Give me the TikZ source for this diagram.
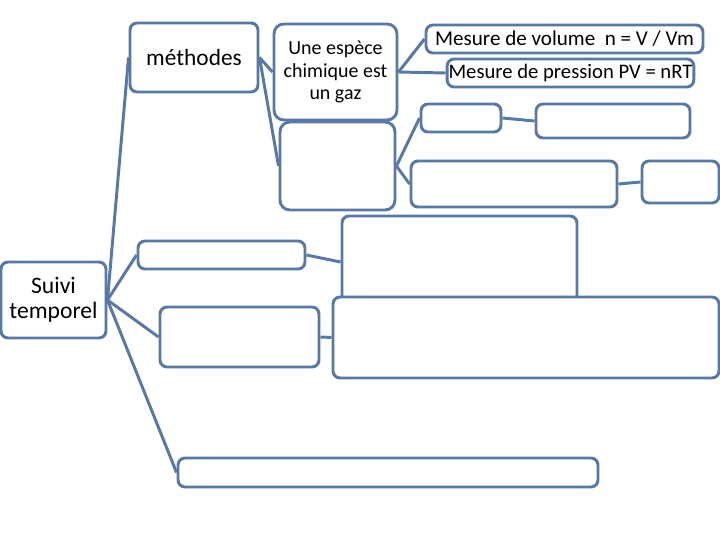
\documentclass[tikz,border=0pt]{standalone}
\usepackage{fontspec}
\setmainfont{Carlito}
\usetikzlibrary{positioning}
\definecolor{mapline}{HTML}{5679AA}

\begin{document}
\begin{tikzpicture}[
  mapbox/.style={draw=mapline, line width=2.1pt, rounded corners=5pt, fill=white, inner sep=1pt, align=center},
  link/.style={draw=mapline, line width=2.1pt}
]
\useasboundingbox (0,0) rectangle (18,13.5);

\node[mapbox, minimum width=2.625cm, minimum height=1.9cm, font=\fontsize{16.8}{17.8}\selectfont] (suivi) at (1.3375,6.0) {Suivi\\temporel};
\node[mapbox, minimum width=3.2cm, minimum height=1.725cm, font=\fontsize{16.6}{18.5}\selectfont] (meth) at (4.85,12.0625) {méthodes};
\node[mapbox, minimum width=3.075cm, minimum height=2.4cm, rounded corners=7pt, font=\fontsize{14.2}{15.8}\selectfont] (gaz) at (8.3875,11.7) {Une espèce\\chimique est\\un gaz};
\node[mapbox, minimum width=2.875cm, minimum height=2.2cm, rounded corners=7pt] (gazbis) at (8.4375,9.35) {};

\node[mapbox, minimum width=6.925cm, minimum height=0.7cm, font=\fontsize{15}{17}\selectfont] (vol) at (14.1125,12.525) {Mesure de volume ~n = V / Vm};
\node[mapbox, minimum width=6.025cm, minimum height=0.7cm, font=\fontsize{14.7}{17}\selectfont] (pres) at (14.2625,11.675) {Mesure de pression PV = nRT};

\node[mapbox, minimum width=2.0cm, minimum height=0.7cm] (petit) at (11.525,10.55) {};
\node[mapbox, minimum width=3.85cm, minimum height=0.85cm] (petitd) at (15.325,10.475) {};
\node[mapbox, minimum width=5.15cm, minimum height=1.15cm] (moyen) at (12.85,8.9) {};
\node[mapbox, minimum width=1.925cm, minimum height=1.05cm] (moyend) at (17.0125,8.95) {};

\node[mapbox, minimum width=5.875cm, minimum height=2.3cm] (grand) at (11.4875,6.95) {};
\node[mapbox, minimum width=4.175cm, minimum height=0.7cm] (long) at (5.5375,7.125) {};
\node[mapbox, minimum width=3.975cm, minimum height=1.5cm] (carre) at (5.9875,5.075) {};
\node[mapbox, minimum width=9.65cm, minimum height=2.025cm] (large) at (13.15,5.0625) {};
\node[mapbox, minimum width=10.5cm, minimum height=0.725cm] (bas) at (9.7,1.6875) {};

% branches
\draw[link] (suivi.east) -- (meth.west);
\draw[link] (suivi.east) -- (long.west);
\draw[link] (suivi.east) -- (carre.west);
\draw[link] (suivi.east) -- (bas.west);
\draw[link] (meth.east) -- (gaz.west);
\draw[link] (meth.east) -- (gazbis.west);
\draw[link] (gaz.east) -- (vol.west);
\draw[link] (gaz.east) -- (pres.west);
\draw[link] (gazbis.east) -- (petit.west);
\draw[link] (gazbis.east) -- (moyen.west);
\draw[link] (petit.east) -- (petitd.west);
\draw[link] (moyen.east) -- (moyend.west);
\draw[link] (long.east) -- (grand.west);
\draw[link] (carre.east) -- (large.west);
\end{tikzpicture}
\end{document}
